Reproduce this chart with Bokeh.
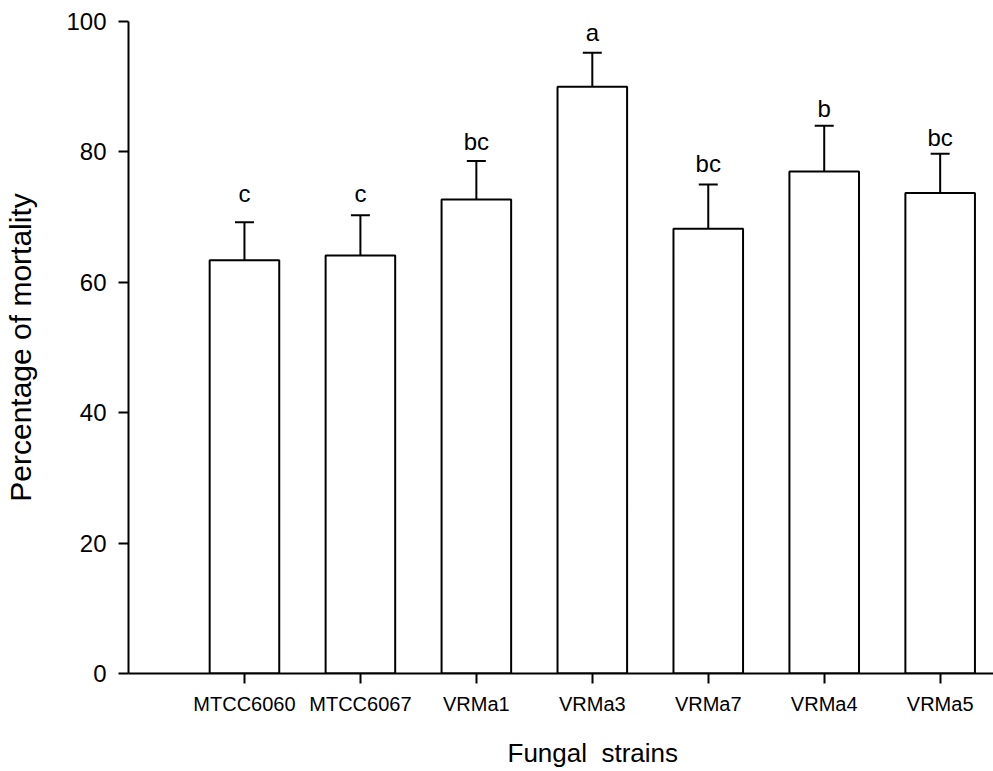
from bokeh.plotting import figure
from bokeh.models import (Range1d, FixedTicker, Whisker, TeeHead, ColumnDataSource,
                          Title, LinearAxis)
from bokeh.core.properties import value
from bokeh.embed import file_html
from bokeh.resources import INLINE

strains = ["MTCC6060", "MTCC6067", "VRMa1", "VRMa3", "VRMa7", "VRMa4", "VRMa5"]
mortality = [63.4, 64.1, 72.7, 90.0, 68.2, 77.0, 73.7]
std_err = [5.8, 6.2, 5.9, 5.2, 6.8, 7.0, 6.0]
letters = ["c", "c", "bc", "a", "bc", "b", "bc"]
letter_y = [73.6, 73.6, 81.6, 98.3, 78.2, 86.7, 82.2]
y_ticks = [0, 20, 40, 60, 80, 100]

positions = list(range(1, len(strains) + 1))
upper = [m + e for m, e in zip(mortality, std_err)]

FONT = "Liberation Sans"

src = ColumnDataSource(dict(x=positions, top=mortality, upper=upper,
                            letters=letters, ly=letter_y))

p = figure(width=993, height=771, output_backend="svg", toolbar_location=None,
           x_range=Range1d(0, 7.46), y_range=Range1d(0, 100),
           min_border_left=128, min_border_right=0, min_border_top=21,
           min_border_bottom=98)
p.outline_line_color = None
p.xgrid.visible = False
p.ygrid.visible = False
p.background_fill_color = "white"
p.border_fill_color = "white"

p.vbar(x="x", top="top", bottom=0, width=0.6, source=src,
       fill_color="white", line_color="black", line_width=2)

wh = Whisker(base="x", lower="top", upper="upper", source=src,
             line_color="black", line_width=2,
             lower_head=None,
             upper_head=TeeHead(size=19, line_color="black", line_width=2))
p.add_layout(wh)

p.text(x="x", y="ly", text="letters", source=src, text_align="center",
       text_baseline="alphabetic", text_font=value(FONT),
       text_font_size="24px", text_color="black")

# y axis
yax = p.yaxis[0]
yax.ticker = FixedTicker(ticks=y_ticks)
yax.axis_label = "Percentage of mortality"
yax.axis_label_text_font = FONT
yax.axis_label_text_font_size = "30px"
yax.axis_label_text_font_style = "normal"
yax.axis_label_text_color = "black"
yax.axis_label_standoff = 26
yax.major_label_text_font = FONT
yax.major_label_text_font_size = "24px"
yax.major_label_text_color = "black"
yax.major_label_standoff = 12
yax.major_tick_out = 10
yax.major_tick_in = 0
yax.minor_tick_out = 0
yax.minor_tick_in = 0
yax.axis_line_width = 2
yax.major_tick_line_width = 2
yax.axis_line_color = "black"
yax.major_tick_line_color = "black"

# x axis
xax = p.xaxis[0]
xax.ticker = FixedTicker(ticks=positions)
xax.major_label_overrides = {pos: name for pos, name in zip(positions, strains)}
xax.major_label_text_font = FONT
xax.major_label_text_font_size = "20px"
xax.major_label_text_color = "black"
xax.major_label_standoff = 9
xax.major_tick_out = 10
xax.major_tick_in = 0
xax.minor_tick_out = 0
xax.minor_tick_in = 0
xax.axis_line_width = 2
xax.major_tick_line_width = 2
xax.axis_line_color = "black"
xax.major_tick_line_color = "black"

# invisible spacer between the tick labels and the x title
spacer = LinearAxis(ticker=FixedTicker(ticks=[0]), major_label_overrides={0: ""},
                    axis_line_color="white", major_tick_line_color="white",
                    minor_tick_line_color="white",
                    major_tick_out=16, major_tick_in=0, minor_tick_out=0,
                    minor_tick_in=0, major_label_standoff=0)
p.add_layout(spacer, "below")

# x-axis title, centred on the bars (not on the frame)
p.add_layout(Title(text="Fungal\u00a0 strains", align="left", offset=379,
                   standoff=5, text_font=FONT, text_font_size="26px",
                   text_font_style="normal", text_color="black"), "below")

open("out.html", "w").write(file_html(p, INLINE))
